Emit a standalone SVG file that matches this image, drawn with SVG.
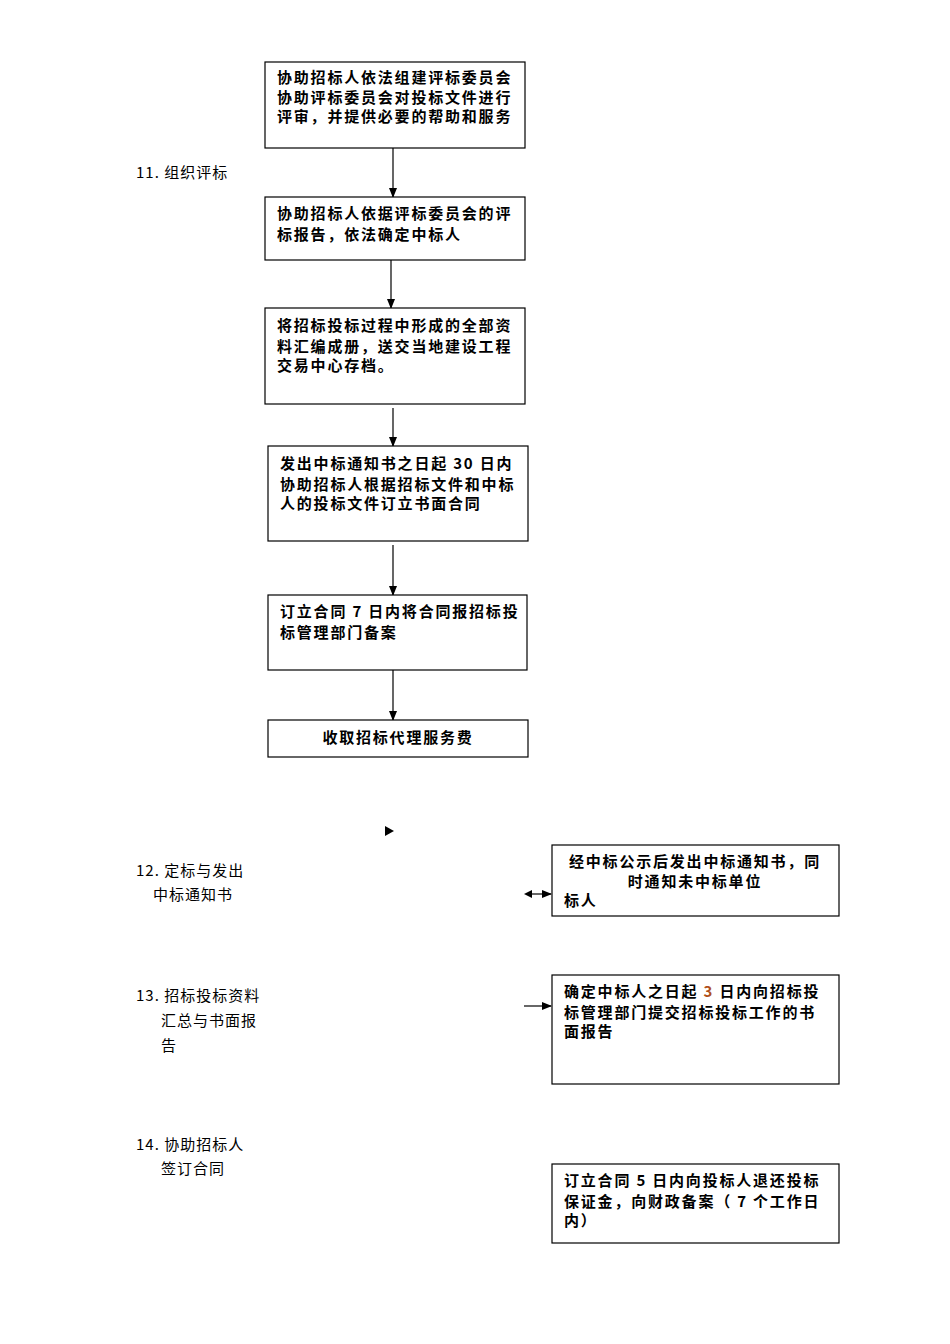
<svg xmlns="http://www.w3.org/2000/svg" width="950" height="1344" viewBox="0 0 950 1344">
<style>
.b{fill:#fff;stroke:#000;stroke-width:1.2}
text{font-family:"Noto Sans CJK SC","Liberation Serif",serif;font-size:15px;font-weight:bold;fill:#000;letter-spacing:1.8px}
.l{font-weight:normal;letter-spacing:1px}
.c{stroke:#000;stroke-width:1.2;fill:none}
</style>
<defs><marker id="a" markerWidth="10" markerHeight="8" refX="9" refY="4" orient="auto" markerUnits="userSpaceOnUse"><path d="M0,0L10,4L0,8z" fill="#000"/></marker></defs>
<rect width="950" height="1344" fill="#fff"/>
<g id="labels">
<text class="l" x="136" y="178">11. 组织评标</text>
<text class="l" x="136" y="876">12. 定标与发出</text>
<text class="l" x="153" y="900">中标通知书</text>
<text class="l" x="136" y="1001">13. 招标投标资料</text>
<text class="l" x="161" y="1026">汇总与书面报</text>
<text class="l" x="161" y="1051">告</text>
<text class="l" x="136" y="1150">14. 协助招标人</text>
<text class="l" x="161" y="1174">签订合同</text>
</g>
<g id="connectors">
<line class="c" x1="393" y1="148" x2="393" y2="197" marker-end="url(#a)"/>
<line class="c" x1="391" y1="260" x2="391" y2="308" marker-end="url(#a)"/>
<line class="c" x1="393" y1="408" x2="393" y2="446" marker-end="url(#a)"/>
<line class="c" x1="393" y1="545" x2="393" y2="595" marker-end="url(#a)"/>
<line class="c" x1="393" y1="670" x2="393" y2="720" marker-end="url(#a)"/>
<path d="M385,826L394,831L385,836z" fill="#000"/>
<line class="c" x1="532" y1="894" x2="551" y2="894" marker-end="url(#a)"/>
<path d="M524,894L532,890L532,898z" fill="#000"/>
<line class="c" x1="524" y1="1006" x2="551" y2="1006" marker-end="url(#a)"/>
</g>
<g id="n1"><rect class="b" x="265" y="62" width="260" height="86"/>
<text x="277" y="83">协助招标人依法组建评标委员会</text><text x="277" y="103">协助评标委员会对投标文件进行</text><text x="277" y="122">评审，并提供必要的帮助和服务</text></g>
<g id="n2"><rect class="b" x="265" y="197" width="260" height="63"/>
<text x="277" y="219">协助招标人依据评标委员会的评</text><text x="277" y="240">标报告，依法确定中标人</text></g>
<g id="n3"><rect class="b" x="265" y="308" width="260" height="96"/>
<text x="277" y="331">将招标投标过程中形成的全部资</text><text x="277" y="352">料汇编成册，送交当地建设工程</text><text x="277" y="371">交易中心存档。</text></g>
<g id="n4"><rect class="b" x="268" y="446" width="260" height="95"/>
<text x="280" y="469">发出中标通知书之日起 30 日内</text><text x="280" y="490">协助招标人根据招标文件和中标</text><text x="280" y="509">人的投标文件订立书面合同</text></g>
<g id="n5"><rect class="b" x="268" y="595" width="259" height="75"/>
<text x="280" y="617">订立合同 7 日内将合同报招标投</text><text x="280" y="638">标管理部门备案</text></g>
<g id="n6"><rect class="b" x="268" y="720" width="260" height="37"/>
<text x="398" y="743" text-anchor="middle">收取招标代理服务费</text></g>
<g id="n7"><rect class="b" x="552" y="845" width="287" height="71"/>
<text x="695" y="867" text-anchor="middle">经中标公示后发出中标通知书，同</text><text x="695" y="887" text-anchor="middle">时通知未中标单位</text><text x="564" y="906">标人</text></g>
<g id="n8"><rect class="b" x="552" y="975" width="287" height="109"/>
<text x="564" y="997">确定中标人之日起 <tspan fill="#b0501a">3</tspan> 日内向招标投</text><text x="564" y="1018">标管理部门提交招标投标工作的书</text><text x="564" y="1037">面报告</text></g>
<g id="n9"><rect class="b" x="552" y="1164" width="287" height="79"/>
<text x="564" y="1186">订立合同 5 日内向投标人退还投标</text><text x="564" y="1207">保证金，向财政备案（ 7 个工作日</text><text x="564" y="1226">内）</text></g>
</svg>
